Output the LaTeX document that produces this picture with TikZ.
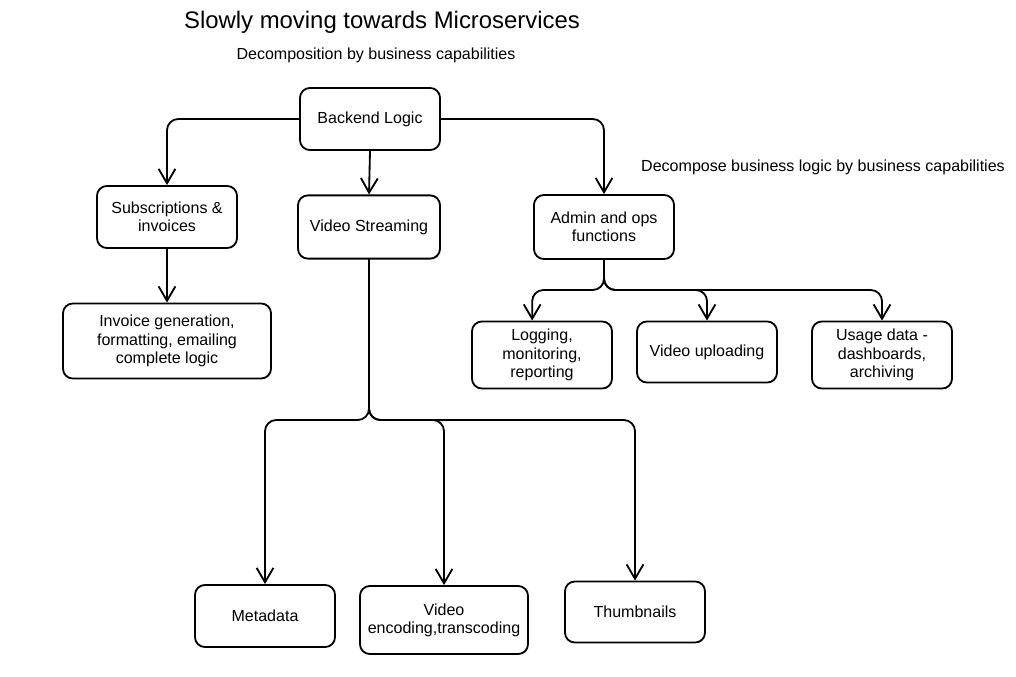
\documentclass[tikz,border=0pt]{standalone}
\usepackage{fontspec}
\setmainfont{Liberation Sans}
\usetikzlibrary{arrows.meta}
\tikzset{
  box/.style={draw, line width=1.3pt, rounded corners=7pt, minimum width=3.5cm,
    minimum height=1.55cm, align=center, inner sep=2pt,
    font=\fontsize{11.4}{13}\selectfont},
  lbl/.style={font=\fontsize{11.4}{13}\selectfont},
  arr/.style={line width=1.3pt, line cap=round, rounded corners=8pt,
    -{Straight Barb[length=3.6mm,width=4.2mm]}}
}
\begin{document}
\begin{tikzpicture}[x=0.025cm, y=-0.025cm]
  \useasboundingbox (0,0) rectangle (1016,676);

  % titles
  \node[font=\fontsize{17}{20}\selectfont] (title) at (382,22) {Slowly moving towards Microservices};
  \node[lbl] (sub) at (376,55) {Decomposition by business capabilities};
  \node[lbl] (note) at (823,167) {Decompose business logic by business capabilities};

  % boxes
  \node[box] (backend) at (370,119) {Backend Logic};
  \node[box] (subs) at (167,217) {Subscriptions \&\\invoices};
  \node[box, minimum width=3.55cm, minimum height=1.58cm] (stream) at (369,227) {Video Streaming};
  \node[box, minimum height=1.6cm] (admin) at (604,227) {Admin and ops\\functions};
  \node[box, minimum width=5.2cm, minimum height=1.875cm] (invoice) at (167,341) {Invoice generation,\\formatting, emailing\\complete logic};
  \node[box, minimum height=1.675cm] (logging) at (542,355) {Logging,\\monitoring,\\reporting};
  \node[box, minimum height=1.525cm] (upload) at (707,352) {Video uploading};
  \node[box, minimum height=1.675cm] (usage) at (882,355) {Usage data -\\dashboards,\\archiving};
  \node[box] (meta) at (265,616) {Metadata};
  \node[box, minimum width=4.2cm, minimum height=1.7cm] (encode) at (444,620) {Video\\encoding,transcoding};
  \node[box, minimum height=1.525cm] (thumb) at (635,612) {Thumbnails};

  % split points
  \coordinate (vsplit) at (370,420);
  \coordinate (asplit) at (604,290);

  % connectors
  \draw[arr] (backend.west) -| (subs.north);
  \draw[arr] (backend.south) -- (stream.north);
  \draw[arr] (backend.east) -| (admin.north);
  \draw[arr] (subs.south) -- (invoice.north);

  \foreach \t in {meta, encode, thumb}
    \draw[arr] (stream.south) |- (vsplit -| \t.north) -- (\t.north);

  \draw[arr] (admin.south) |- ([xshift=-7]asplit -| logging.north) -- ([xshift=-7]logging.north);
  \foreach \t in {upload, usage}
    \draw[arr] (admin.south) |- (asplit -| \t.north) -- (\t.north);
\end{tikzpicture}
\end{document}
